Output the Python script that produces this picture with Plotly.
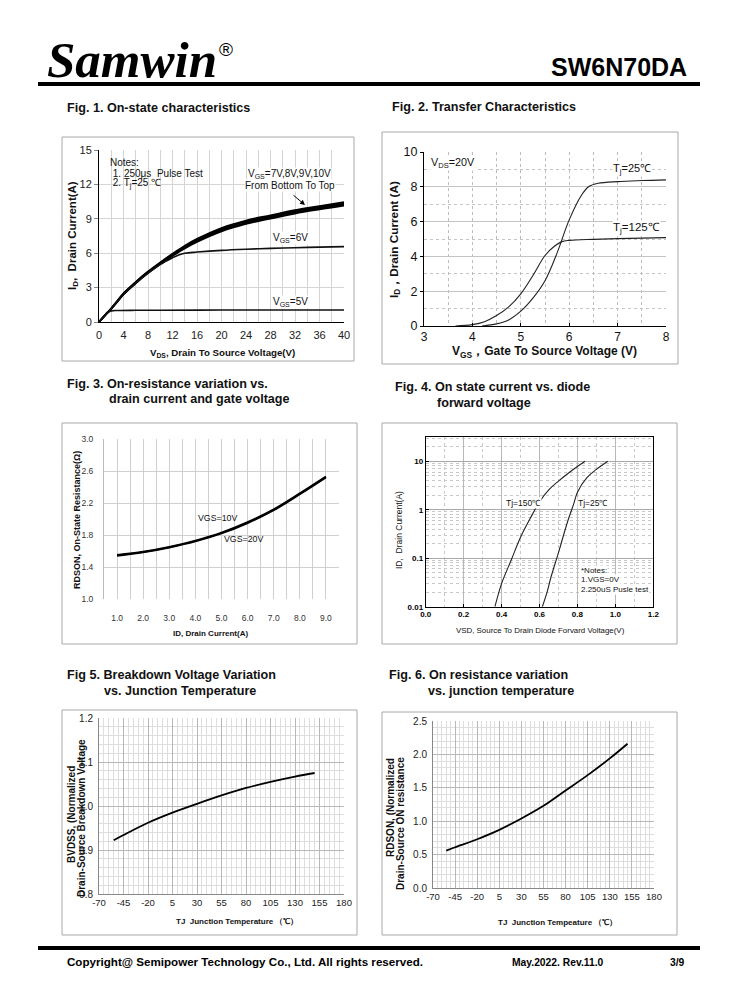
import plotly.graph_objects as go

W, H = 738, 1000
OFF = 8  # page body margin of the browser (px), compensated so positions land where intended

# ---------------- DATA ----------------
# Fig 1: On-state characteristics
vds = [0, 1, 2, 3, 4, 6, 8, 10, 12, 14, 16, 20, 24, 28, 32, 36, 40]
id_7v = [0, 0.58, 1.14, 1.76, 2.4, 3.38, 4.26, 5.04, 5.76, 6.42, 6.98, 7.9, 8.55, 9.02, 9.46, 9.82, 10.15]
id_8v = [0, 0.59, 1.16, 1.79, 2.44, 3.42, 4.31, 5.1, 5.83, 6.5, 7.08, 8.0, 8.65, 9.12, 9.56, 9.92, 10.25]
id_9v = [0, 0.6, 1.18, 1.82, 2.47, 3.46, 4.36, 5.15, 5.89, 6.58, 7.17, 8.1, 8.75, 9.21, 9.66, 10.01, 10.35]
id_10v = [0, 0.61, 1.2, 1.85, 2.5, 3.5, 4.4, 5.2, 5.95, 6.65, 7.25, 8.2, 8.85, 9.3, 9.75, 10.1, 10.45]
vds_6v = [0, 2, 4, 6, 8, 10, 12, 13, 14, 16, 20, 24, 28, 32, 36, 40]
id_6v = [0, 1.15, 2.4, 3.38, 4.26, 5.02, 5.6, 5.85, 6.0, 6.1, 6.25, 6.35, 6.42, 6.48, 6.53, 6.57]
vds_5v = [0, 1, 1.5, 2, 3, 6, 10, 20, 30, 40]
id_5v = [0, 0.6, 0.85, 0.97, 1.0, 1.02, 1.03, 1.04, 1.05, 1.05]

# Fig 2: Transfer characteristics
vgs_25 = [4.2, 4.5, 4.75, 5.0, 5.25, 5.5, 5.75, 6.0, 6.25, 6.4, 6.6, 7.0, 7.5, 8.0]
id_25 = [0.0, 0.12, 0.35, 0.85, 1.6, 2.6, 4.2, 6.1, 7.5, 8.0, 8.2, 8.3, 8.36, 8.4]
vgs_125 = [3.65, 4.0, 4.25, 4.5, 4.75, 5.0, 5.25, 5.5, 5.7, 5.85, 6.0, 6.5, 7.0, 8.0]
id_125 = [0.0, 0.08, 0.25, 0.6, 1.1, 1.85, 2.9, 4.05, 4.6, 4.85, 4.92, 4.98, 5.02, 5.08]

# Fig 3: RDSON vs drain current
id_f3 = [1, 2, 3, 4, 5, 6, 7, 8, 9]
rds_10v = [1.55, 1.59, 1.65, 1.73, 1.83, 1.96, 2.12, 2.32, 2.53]
rds_20v = [1.54, 1.585, 1.645, 1.72, 1.82, 1.95, 2.11, 2.31, 2.52]
f3_ticks = [1.0, 2.0, 3.0, 4.0, 5.0, 6.0, 7.0, 8.0, 9.0]

# Fig 4: Diode forward
vsd_150 = [0.365, 0.4, 0.45, 0.5, 0.55, 0.6, 0.65, 0.7, 0.75, 0.8, 0.84]
isd_150 = [0.01, 0.03, 0.09, 0.27, 0.65, 1.45, 2.6, 3.9, 5.6, 7.8, 10]
vsd_25 = [0.615, 0.64, 0.66, 0.7, 0.75, 0.78, 0.8, 0.85, 0.9, 0.96]
isd_25 = [0.01, 0.02, 0.04, 0.13, 0.6, 1.3, 2.3, 4.6, 6.8, 10]
f4_yticks = [0.01, 0.1, 1, 10]
f4_ylabels = ["0.01", "0.1", "1", "10"]

# Fig 5: BVDSS vs Tj
tj_5 = [-55, -45, -20, 5, 30, 55, 80, 105, 130, 150]
bvdss = [0.922, 0.934, 0.962, 0.985, 1.005, 1.024, 1.041, 1.055, 1.067, 1.075]

# Fig 6: RDSON vs Tj
tj_6 = [-55, -45, -20, 5, 30, 55, 80, 105, 130, 150]
rdson_n = [0.56, 0.61, 0.73, 0.87, 1.04, 1.23, 1.46, 1.69, 1.94, 2.16]

tj_ticks = [-70, -45, -20, 5, 30, 55, 80, 105, 130, 155, 180]

# ---------------- HELPERS ----------------
SANS = "Liberation Sans, Arial, sans-serif"
SERIF = "Liberation Serif, Times New Roman, serif"


def px(x):
    return (x - OFF) / W


def py(y):
    return 1 - (y - OFF) / H


fig = go.Figure()
annotations = []
shapes = []


def text(x, y, t, size=12, bold=False, family=SANS, xanchor="left", angle=0, color="#111", bg=None, yanchor="middle"):
    if bold:
        t = "<b>" + t + "</b>"
    a = dict(x=px(x), y=py(y), xref="paper", yref="paper", text=t, showarrow=False,
             xanchor=xanchor, yanchor=yanchor, textangle=angle,
             font=dict(family=family, size=size, color=color))
    if bg:
        a["bgcolor"] = bg
        a["borderpad"] = 0
    annotations.append(a)


def rect(x0, y0, x1, y1, color="#a8a8a8", width=1, fill=None, layer="above"):
    s = dict(type="rect", xref="paper", yref="paper", x0=px(x0), x1=px(x1), y0=py(y0), y1=py(y1),
             line=dict(color=color, width=width), layer=layer)
    if fill:
        s["fillcolor"] = fill
    shapes.append(s)


def hline(x0, x1, y, width=4, color="#000"):
    shapes.append(dict(type="line", xref="paper", yref="paper", x0=px(x0), x1=px(x1), y0=py(y), y1=py(y),
                       line=dict(color=color, width=width)))


axes = {}


def set_axes(n, xd, yd, xax, yax):
    xa = dict(domain=[px(xd[0]), px(xd[1])], anchor="y%d" % n if n > 1 else "y")
    ya = dict(domain=[py(yd[1]), py(yd[0])], anchor="x%d" % n if n > 1 else "x")
    xa.update(xax)
    ya.update(yax)
    axes["xaxis%s" % ("" if n == 1 else n)] = xa
    axes["yaxis%s" % ("" if n == 1 else n)] = ya


def ax_ref(n):
    return ("x" if n == 1 else "x%d" % n), ("y" if n == 1 else "y%d" % n)


# ---------------- HEADER / FOOTER ----------------
text(45, 60, "<i>Samwin</i>", size=51, bold=True, family=SERIF, color="#000")
text(217, 49, "®", size=19, family=SANS, color="#000")
text(689, 67, "SW6N70DA", size=25, bold=True, family=SANS, xanchor="right", color="#000")
hline(38, 700, 84, width=4)

hline(38, 700, 948, width=4)
text(65, 961, "Copyright@ Semipower Technology Co., Ltd. All rights reserved.", size=11.6, bold=True, color="#000")
text(510, 962, "May.2022. Rev.11.0", size=10.3, bold=True, color="#000")
text(687, 962, "3/9", size=10.3, bold=True, xanchor="right", color="#000")

# Figure titles
TS = 12.6
text(65, 108, "Fig. 1. On-state characteristics", size=TS, bold=True)
text(390, 107, "Fig. 2. Transfer Characteristics", size=TS, bold=True)
text(65, 384, "Fig. 3. On-resistance variation vs.", size=TS, bold=True)
text(107, 399, "drain current and gate voltage", size=TS, bold=True)
text(393, 387, "Fig. 4. On state current vs. diode", size=TS, bold=True)
text(435, 403, "forward voltage", size=TS, bold=True)
text(65, 675, "Fig 5. Breakdown Voltage Variation", size=TS, bold=True)
text(102, 691, "vs. Junction Temperature", size=TS, bold=True)
text(387, 675, "Fig. 6. On resistance variation", size=TS, bold=True)
text(426, 691, "vs. junction temperature", size=TS, bold=True)

# Panel borders
rect(62, 137, 354, 361)
rect(382, 132, 678, 364)
rect(62, 423, 357, 644)
rect(382, 423, 677, 644)
rect(62, 710, 357, 935)
rect(382, 712, 677, 935)

# ---------------- FIG 1 ----------------
set_axes(1, [99, 344], [150, 322],
         dict(range=[0, 40], dtick=4, tick0=0, showgrid=True, gridcolor="#d4d4d4", gridwidth=1,
              minor=dict(dtick=2, showgrid=True, gridcolor="#d4d4d4"),
              showline=True, linecolor="#000", linewidth=1, ticks="", zeroline=False,
              tickfont=dict(family=SANS, size=11, color="#222"), ticklabelstandoff=3),
         dict(range=[0, 15], dtick=3, showgrid=True, gridcolor="#d4d4d4", showline=True,
              linecolor="#000", linewidth=1, ticks="outside", ticklen=4, tickcolor="#888", zeroline=False,
              tickfont=dict(family=SANS, size=11, color="#222")))
xr, yr = ax_ref(1)
for arr in [id_7v, id_8v, id_9v, id_10v]:
    fig.add_trace(go.Scatter(x=vds, y=arr, mode="lines", line=dict(color="#000", width=1.8, shape="spline"),
                             xaxis=xr, yaxis=yr, showlegend=False))
fig.add_trace(go.Scatter(x=vds_6v, y=id_6v, mode="lines", line=dict(color="#111", width=1.6, shape="spline"),
                         xaxis=xr, yaxis=yr, showlegend=False))
fig.add_trace(go.Scatter(x=vds_5v, y=id_5v, mode="lines", line=dict(color="#111", width=1.6, shape="spline"),
                         xaxis=xr, yaxis=yr, showlegend=False))
rect(100, 151, 205, 193, color="rgba(0,0,0,0)", width=0, fill="#fff", layer="between")
text(108, 162, "Notes:", size=10)
text(108, 173, " 1. 250μs  Pulse Test", size=10)
text(108, 184, " 2. T<sub>j</sub>=25 ℃", size=10)
text(289, 174, "V<sub>GS</sub>=7V,8V,9V,10V", size=10, xanchor="center", bg="#fff")
text(290, 185, "From Bottom To Top", size=10, xanchor="center", bg="#fff")
text(290, 238, "V<sub>GS</sub>=6V", size=10, xanchor="center", bg="#fff")
text(290, 302, "V<sub>GS</sub>=5V", size=10, xanchor="center", bg="#fff")
annotations.append(dict(x=px(305), y=py(205), ax=-13, ay=-11, xref="paper", yref="paper",
                        axref="pixel", ayref="pixel", text="", showarrow=True, arrowhead=2,
                        arrowsize=1, arrowwidth=1, arrowcolor="#000"))
text(73, 236, "I<sub>D</sub>,  Drain Current(A)", size=11.5, bold=True, xanchor="center", angle=-90)
text(222, 353, "V<sub>DS</sub>, Drain To Source Voltage(V)", size=9.7, bold=True, xanchor="center")

# ---------------- FIG 2 ----------------
set_axes(2, [424, 666], [152, 326],
         dict(range=[3, 8], dtick=1, showgrid=True, gridcolor="#bdbdbd", griddash="dot",
              minor=dict(dtick=0.5, showgrid=True, gridcolor="#bdbdbd", griddash="dot"),
              showline=True, linecolor="#000", linewidth=1, ticks="inside", ticklen=3, tickcolor="#000",
              zeroline=False, ticklabelstandoff=0, tickfont=dict(family=SANS, size=12, color="#111")),
         dict(range=[0, 10], dtick=2, showgrid=True, gridcolor="#c4c4c4",
              minor=dict(dtick=1, showgrid=True, gridcolor="#c4c4c4", griddash="dot"),
              showline=True, linecolor="#000", linewidth=1, ticks="outside", ticklen=3, tickcolor="#000",
              zeroline=False, tickfont=dict(family=SANS, size=12.5, color="#111")))
xr, yr = ax_ref(2)
fig.add_trace(go.Scatter(x=vgs_25, y=id_25, mode="lines", line=dict(color="#222", width=1.1, shape="spline"),
                         xaxis=xr, yaxis=yr, showlegend=False))
fig.add_trace(go.Scatter(x=vgs_125, y=id_125, mode="lines", line=dict(color="#222", width=1.1, shape="spline"),
                         xaxis=xr, yaxis=yr, showlegend=False))
text(430, 163, "V<sub>DS</sub>=20V", size=10.8, bg="#fff")
text(632, 169, "T<sub>j</sub>=25℃", size=11, xanchor="center", bg="#fff")
text(636, 228, "T<sub>j</sub>=125℃", size=11.5, xanchor="center", bg="#fff")
text(395, 240, "I<sub>D</sub>，Drain Current (A)", size=11.8, bold=True, xanchor="center", angle=-90)
text(544, 352, "V<sub>GS</sub>，Gate To Source Voltage (V)", size=12, bold=True, xanchor="center")

# ---------------- FIG 3 ----------------
set_axes(3, [104, 339], [439, 599],
         dict(range=[0.5, 9.5], tickvals=f3_ticks, ticktext=["%.1f" % v for v in f3_ticks],
              showgrid=False, minor=dict(dtick=0.5, tick0=0.5, showgrid=True, gridcolor="#cfcfcf"),
              showline=False, ticks="", zeroline=False, ticklabelstandoff=12,
              tickfont=dict(family=SANS, size=8.5, color="#333")),
         dict(range=[1.0, 3.0], dtick=0.4, tick0=1.0, tickformat=".1f", showgrid=True, gridcolor="#cfcfcf",
              showline=True, linecolor="#bbb", ticks="", zeroline=False, ticklabelstandoff=8,
              tickfont=dict(family=SANS, size=8.5, color="#333")))
xr, yr = ax_ref(3)
fig.add_trace(go.Scatter(x=id_f3, y=rds_10v, mode="lines", line=dict(color="#000", width=2, shape="spline"),
                         xaxis=xr, yaxis=yr, showlegend=False))
fig.add_trace(go.Scatter(x=id_f3, y=rds_20v, mode="lines", line=dict(color="#000", width=2, shape="spline"),
                         xaxis=xr, yaxis=yr, showlegend=False))
text(217, 518, "VGS=10V", size=8.8, xanchor="center")
text(243, 539, "VGS=20V", size=8.8, xanchor="center")
text(77, 520, "RDSON, On-State Resistance(Ω)", size=9, bold=True, xanchor="center", angle=-90)
text(210, 633, "ID, Drain Current(A)", size=8, bold=True, xanchor="center")

# ---------------- FIG 4 ----------------
set_axes(4, [425.7, 653.3], [437, 606.7],
         dict(range=[0, 1.2], dtick=0.2, tickformat=".1f", showgrid=True, gridcolor="#b8b8b8",
              minor=dict(dtick=0.1, showgrid=True, gridcolor="#c8c8c8", griddash="dot"),
              showline=True, linecolor="#000", linewidth=1, mirror=True, ticks="inside", ticklen=3,
              tickcolor="#000", zeroline=False, tickfont=dict(family=SANS, size=8, color="#000", weight="bold")),
         dict(type="log", range=[-2, 1.5], tickvals=f4_yticks, ticktext=["<b>%s</b>" % s for s in f4_ylabels],
              showgrid=True, gridcolor="#a8a8a8",
              minor=dict(dtick="D1", showgrid=True, gridcolor="#c8c8c8", griddash="dot"),
              showline=True, linecolor="#000", linewidth=1, mirror=True, ticks="inside", ticklen=3,
              tickcolor="#000", zeroline=False, tickfont=dict(family=SANS, size=8, color="#000")))
xr, yr = ax_ref(4)
fig.add_trace(go.Scatter(x=vsd_150, y=isd_150, mode="lines", line=dict(color="#222", width=1.1, shape="spline"),
                         xaxis=xr, yaxis=yr, showlegend=False))
fig.add_trace(go.Scatter(x=vsd_25, y=isd_25, mode="lines", line=dict(color="#222", width=1.1, shape="spline"),
                         xaxis=xr, yaxis=yr, showlegend=False))
text(523, 503, "Tj=150℃", size=8.5, xanchor="center", bg="#fff")
text(593, 503, "Tj=25℃", size=8.5, xanchor="center", bg="#fff")
text(580, 570, "*Notes:", size=8, bg="#fff")
text(580, 579, "1.VGS=0V", size=8, bg="#fff")
text(580, 589, "2.250uS Pusle test", size=8, bg="#fff")
text(399, 530, "ID,  Drain Current(A)", size=8.5, xanchor="center", angle=-90)
text(540, 630, "VSD, Source To Drain Diode Forvard Voltage(V)", size=7.9, xanchor="center")

# ---------------- FIG 5 ----------------
set_axes(5, [99, 344], [718, 894],
         dict(range=[-70, 180], tickvals=tj_ticks, ticktext=[str(v) for v in tj_ticks],
              showgrid=True, gridcolor="#b8b8b8",
              minor=dict(dtick=5, tick0=-70, showgrid=True, gridcolor="#dedede"),
              showline=True, linecolor="#888", ticks="", zeroline=False, tickangle=0,
              tickfont=dict(family=SANS, size=9.5, color="#222")),
         dict(range=[0.8, 1.2], dtick=0.1, tick0=0.8, tickformat=".1f", showgrid=True, gridcolor="#b8b8b8",
              minor=dict(dtick=0.02, tick0=0.8, showgrid=True, gridcolor="#dedede"),
              showline=True, linecolor="#888", ticks="", zeroline=False, ticklabelstandoff=3,
              tickfont=dict(family=SANS, size=10, color="#222")))
xr, yr = ax_ref(5)
fig.add_trace(go.Scatter(x=tj_5, y=bvdss, mode="lines", line=dict(color="#000", width=1.8, shape="spline"),
                         xaxis=xr, yaxis=yr, showlegend=False))
text(71, 815, "BVDSS, (Normalized", size=10, bold=True, xanchor="center", angle=-90)
text(81, 818, "Drain-Source Breakdown Voltage", size=10, bold=True, xanchor="center", angle=-90)
text(237, 921, "TJ  Junction Temperature （℃）", size=8, bold=True, xanchor="center")

# ---------------- FIG 6 ----------------
set_axes(6, [433, 654], [721, 888],
         dict(range=[-70, 180], tickvals=tj_ticks, ticktext=[str(v) for v in tj_ticks],
              showgrid=True, gridcolor="#b8b8b8",
              minor=dict(dtick=5, tick0=-70, showgrid=True, gridcolor="#dedede"),
              showline=True, linecolor="#888", ticks="", zeroline=False, tickangle=0,
              tickfont=dict(family=SANS, size=9.5, color="#222")),
         dict(range=[0, 2.5], dtick=0.5, tick0=0, tickformat=".1f", showgrid=True, gridcolor="#b8b8b8",
              minor=dict(dtick=0.1, tick0=0, showgrid=True, gridcolor="#dedede"),
              showline=True, linecolor="#888", ticks="", zeroline=False, ticklabelstandoff=3,
              tickfont=dict(family=SANS, size=10, color="#222")))
xr, yr = ax_ref(6)
fig.add_trace(go.Scatter(x=tj_6, y=rdson_n, mode="lines", line=dict(color="#000", width=1.8, shape="spline"),
                         xaxis=xr, yaxis=yr, showlegend=False))
text(390, 808, "RDSON, (Normalized", size=10, bold=True, xanchor="center", angle=-90)
text(400, 824, "Drain-Source ON resistance", size=10, bold=True, xanchor="center", angle=-90)
text(557, 922, "TJ  Junction Tempeature （℃）", size=8, bold=True, xanchor="center")

fig.update_layout(width=W, height=H, margin=dict(l=0, r=0, t=0, b=0, autoexpand=False),
                  paper_bgcolor="#fff", plot_bgcolor="#fff", showlegend=False,
                  annotations=annotations, shapes=shapes, **axes)
fig.write_html("out.html")
